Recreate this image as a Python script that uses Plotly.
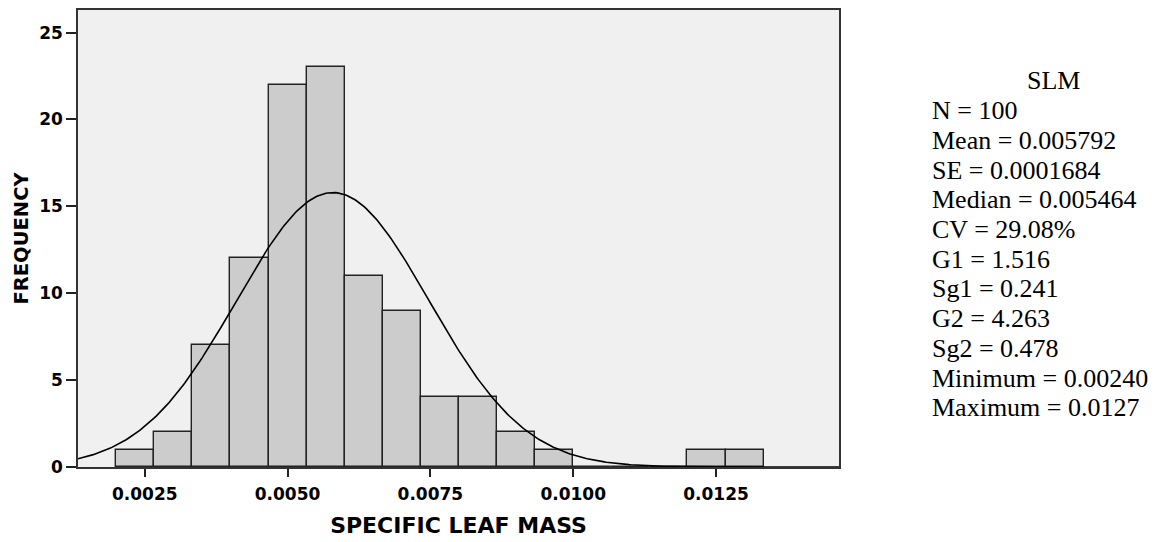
import numpy as np
import plotly.graph_objects as go

# Histogram of specific leaf mass (SLM), 100 samples
bin_start = 0.002
bin_width = 0.002 / 3
counts = [1, 2, 7, 12, 22, 23, 11, 9, 4, 4, 2, 1, 0, 0, 0, 1, 1]

# Summary statistics shown in the side panel
n_obs = 100
mean_val = 0.005792
se_val = 0.0001684
stat_title = "SLM"
stat_lines = [
    "N = 100",
    "Mean = 0.005792",
    "SE = 0.0001684",
    "Median = 0.005464",
    "CV = 29.08%",
    "G1 = 1.516",
    "Sg1 = 0.241",
    "G2 = 4.263",
    "Sg2 = 0.478",
    "Minimum = 0.00240",
    "Maximum = 0.0127",
]

x_ticks = [0.0025, 0.0050, 0.0075, 0.0100, 0.0125]
y_ticks = [0, 5, 10, 15, 20, 25]
x_range = [0.001332, 0.014653]
y_range = [0, 26.3]

W, H = 1155, 542
L, R, T, B = 78, 316, 8, 64

centers = [bin_start + bin_width * (i + 0.5) for i in range(len(counts))]

# Fitted normal curve scaled to counts
sd_val = se_val * np.sqrt(n_obs)
xs = np.linspace(x_range[0], x_range[1], 400)
ys = n_obs * bin_width * np.exp(-0.5 * ((xs - mean_val) / sd_val) ** 2) / (sd_val * np.sqrt(2 * np.pi))

fig = go.Figure()
fig.add_trace(go.Bar(
    x=centers, y=counts, width=bin_width,
    marker=dict(color="#cccccc", line=dict(color="#222222", width=1.4)),
    hoverinfo="skip",
))
fig.add_trace(go.Scatter(
    x=xs, y=ys, mode="lines",
    line=dict(color="#000000", width=1.6),
    hoverinfo="skip",
))

sans = "DejaVu Sans"
serif = "Liberation Serif"

fig.update_layout(
    width=W, height=H,
    margin=dict(l=L, r=R, t=T, b=B),
    paper_bgcolor="white",
    plot_bgcolor="#f0f0f0",
    showlegend=False,
    bargap=0,
    xaxis=dict(
        range=x_range, tickvals=x_ticks, tickformat=".4f",
        ticks="outside", ticklen=8, tickwidth=1.5, tickcolor="#222222",
        showline=True, linecolor="#333333", linewidth=1.5, mirror=True,
        showgrid=False, zeroline=False,
        tickfont=dict(family=sans, size=17, color="#000000", weight="bold"),
        ticklabelstandoff=3,
        title=dict(text="SPECIFIC LEAF MASS", standoff=14,
                   font=dict(family=sans, size=22, color="#000000", weight="bold")),
    ),
    yaxis=dict(
        range=y_range, tickvals=y_ticks,
        ticks="outside", ticklen=10, tickwidth=1.5, tickcolor="#222222",
        showline=True, linecolor="#333333", linewidth=1.5, mirror=True,
        showgrid=False, zeroline=False,
        tickfont=dict(family=sans, size=17, color="#000000", weight="bold"),
        title=dict(text="FREQUENCY", standoff=5,
                   font=dict(family=sans, size=19.5, color="#000000", weight="bold")),
    ),
)

pw, ph = W - L - R, H - T - B


def px_to_paper(px, py):
    return (px - L) / pw, (H - B - py) / ph


pitch = 30.55
first_mid = 81
xp, yp = px_to_paper(1053, first_mid)
fig.add_annotation(x=xp, y=yp, xref="paper", yref="paper", text=stat_title,
                   showarrow=False, xanchor="center", yanchor="middle",
                   font=dict(family=serif, size=26, color="#000000"))
for i, line in enumerate(stat_lines, start=1):
    xp, yp = px_to_paper(930, first_mid + pitch * i)
    fig.add_annotation(x=xp, y=yp, xref="paper", yref="paper", text=line,
                       showarrow=False, xanchor="left", yanchor="middle",
                       font=dict(family=serif, size=26, color="#000000"))

fig.write_html("out.html")
